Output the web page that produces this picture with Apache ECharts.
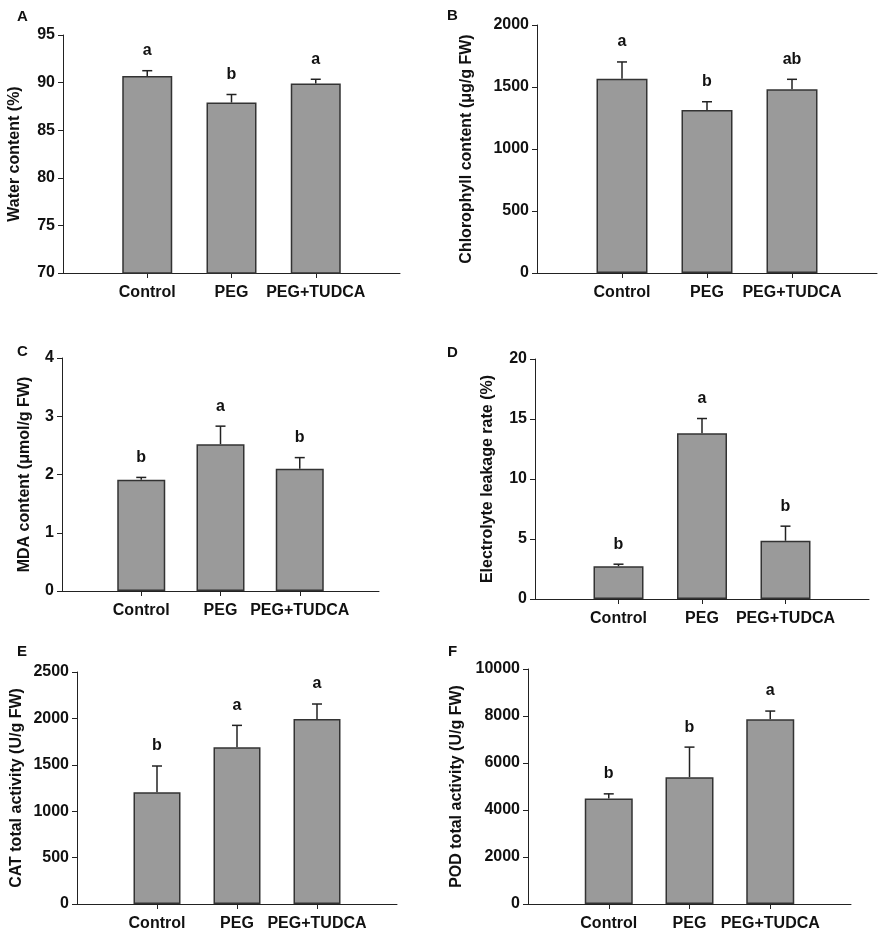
<!DOCTYPE html>
<html>
<head>
<meta charset="utf-8">
<script src="https://cdn.jsdelivr.net/npm/echarts@6/dist/echarts.min.js"></script>
<style>
html,body{margin:0;padding:0;background:#fff;}
#chart{width:883px;height:939px;}
</style>
</head>
<body>
<div id="chart"></div>
<script>
// ---- data ----
const categories = ['Control', 'PEG', 'PEG+TUDCA'];

const waterContent = [90.7, 87.9, 89.9];
const waterContentErr = [0.55, 0.85, 0.45];
const waterContentLetters = ['a', 'b', 'a'];

const chlorophyll = [1567, 1315, 1481];
const chlorophyllErr = [135, 66, 81];
const chlorophyllLetters = ['a', 'b', 'ab'];

const mda = [1.91, 2.52, 2.10];
const mdaErr = [0.04, 0.31, 0.19];
const mdaLetters = ['b', 'a', 'b'];

const electrolyte = [2.73, 13.82, 4.85];
const electrolyteErr = [0.17, 1.22, 1.22];
const electrolyteLetters = ['b', 'a', 'b'];

const catActivity = [1203, 1688, 1994];
const catActivityErr = [284, 237, 161];
const catActivityLetters = ['b', 'a', 'a'];

const podActivity = [4490, 5398, 7857];
const podActivityErr = [197, 1278, 353];
const podActivityLetters = ['b', 'b', 'a'];

const panels = [
  {tag:'A', name:'Water content (%)', values:waterContent, err:waterContentErr, letters:waterContentLetters, min:70, max:95, interval:5},
  {tag:'B', name:'Chlorophyll content (\u03bcg/g FW)', values:chlorophyll, err:chlorophyllErr, letters:chlorophyllLetters, min:0, max:2000, interval:500},
  {tag:'C', name:'MDA content (\u03bcmol/g FW)', values:mda, err:mdaErr, letters:mdaLetters, min:0, max:4, interval:1},
  {tag:'D', name:'Electrolyte leakage rate (%)', values:electrolyte, err:electrolyteErr, letters:electrolyteLetters, min:0, max:20, interval:5},
  {tag:'E', name:'CAT total activity (U/g FW)', values:catActivity, err:catActivityErr, letters:catActivityLetters, min:0, max:2500, interval:500},
  {tag:'F', name:'POD total activity (U/g FW)', values:podActivity, err:podActivityErr, letters:podActivityLetters, min:0, max:10000, interval:2000}
];

// ---- layout (pixels) ----
const layout = [
  {left:63, top:35, width:337, height:238, nameGap:40, barWidth:50, tagX:12, tagY:4},
  {left:537, top:25, width:340, height:248, nameGap:62, barWidth:51, tagX:442, tagY:3},
  {left:62, top:358, width:317, height:233, nameGap:29, barWidth:48, tagX:12, tagY:339},
  {left:535, top:359, width:334, height:240, nameGap:39, barWidth:50, tagX:442, tagY:340},
  {left:77, top:672, width:320, height:232, nameGap:52, barWidth:47, tagX:12, tagY:639},
  {left:528, top:669, width:323, height:235, nameGap:63, barWidth:48, tagX:443, tagY:639}
];

const FONT = '"Liberation Sans", Arial, sans-serif';
const axisColor = '#222';

const option = {
  animation: false,
  backgroundColor: '#fff',
  title: [], grid: [], xAxis: [], yAxis: [], series: []
};

panels.forEach((p, i) => {
  const L = layout[i];
  option.title.push({
    text: p.tag, left: L.tagX, top: L.tagY,
    textStyle: {fontFamily: FONT, fontWeight: 'bold', fontSize: 15, color: '#111'}
  });
  option.grid.push({left: L.left, top: L.top, width: L.width, height: L.height, containLabel: false});
  option.xAxis.push({
    type: 'value', gridIndex: i, min: 0, max: 4, interval: 1,
    splitLine: {show: false},
    axisLine: {show: true, lineStyle: {color: axisColor, width: 1}},
    axisTick: {show: true, customValues: [1, 2, 3], length: 5, lineStyle: {color: axisColor}},
    axisLabel: {
      customValues: [1, 2, 3], margin: 12,
      fontFamily: FONT, fontWeight: 'bold', fontSize: 16, color: '#111',
      formatter: v => categories[Math.round(v) - 1] || ''
    }
  });
  option.yAxis.push({
    type: 'value', gridIndex: i, min: p.min, max: p.max, interval: p.interval,
    name: p.name, nameLocation: 'middle', nameRotate: 90, nameGap: L.nameGap,
    nameTextStyle: {fontFamily: FONT, fontWeight: 'bold', fontSize: 16, color: '#111'},
    splitLine: {show: false},
    axisLine: {show: true, lineStyle: {color: axisColor, width: 1}},
    axisTick: {show: true, length: 5, lineStyle: {color: axisColor}},
    axisLabel: {margin: 8, fontFamily: FONT, fontWeight: 'bold', fontSize: 16, color: '#111',
                formatter: v => String(v)}
  });
  option.series.push({
    type: 'bar', xAxisIndex: i, yAxisIndex: i,
    barWidth: L.barWidth, clip: true,
    itemStyle: {color: '#9a9a9a', borderColor: '#333', borderWidth: 1.5},
    data: p.values.map((v, k) => [k + 1, v])
  });
  option.series.push({
    type: 'custom', xAxisIndex: i, yAxisIndex: i, clip: false,
    data: p.values.map((v, k) => [k + 1, v, v + p.err[k]]),
    renderItem: (params, api) => {
      const x = api.value(0);
      const base = api.coord([x, api.value(1)]);
      const top = api.coord([x, api.value(2)]);
      const cap = 5;
      return {
        type: 'group',
        children: [
          {type: 'line', shape: {x1: base[0], y1: base[1], x2: top[0], y2: top[1]},
           style: {stroke: '#222', lineWidth: 1.5}},
          {type: 'line', shape: {x1: top[0] - cap, y1: top[1], x2: top[0] + cap, y2: top[1]},
           style: {stroke: '#222', lineWidth: 1.5}},
          {type: 'text', x: top[0], y: top[1] - 20,
           style: {text: p.letters[params.dataIndex], fontFamily: FONT, fontWeight: 'bold',
                   fontSize: 16, fill: '#111', align: 'center', verticalAlign: 'middle'}}
        ]
      };
    }
  });
});

const chart = echarts.init(document.getElementById('chart'), null, {renderer: 'canvas'});
chart.setOption(option);
</script>
</body>
</html>
